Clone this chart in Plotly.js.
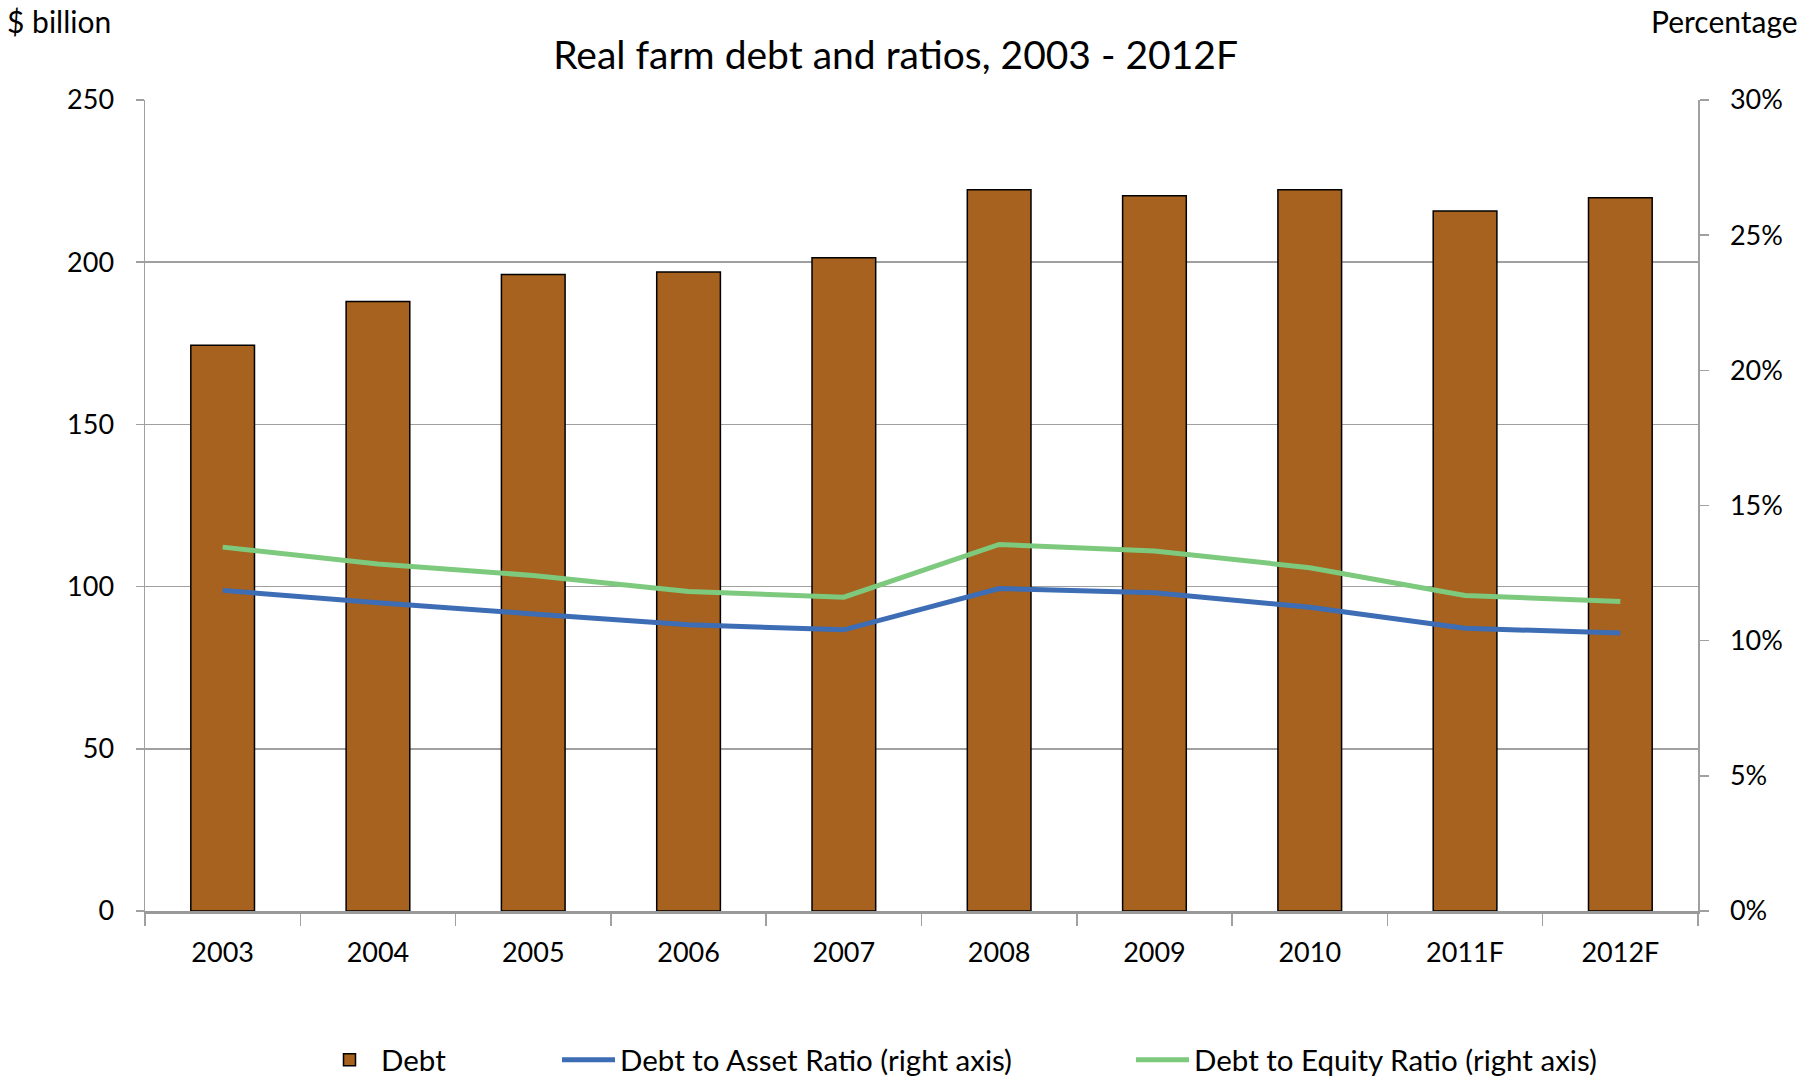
<!DOCTYPE html>
<html>
<head>
<meta charset="utf-8">
<script src="https://cdn.plot.ly/plotly-3.0.1.min.js"></script>
<style>
  html, body { margin: 0; padding: 0; background: #ffffff; }
  #chart { width: 1814px; height: 1076px; }
</style>
</head>
<body>
<div id="chart"></div>
<script>
// ---- Data ----
const years = ["2003", "2004", "2005", "2006", "2007", "2008", "2009", "2010", "2011F", "2012F"];
const debt = [174.4, 187.9, 196.2, 197.0, 201.4, 222.3, 220.5, 222.3, 215.8, 219.9];          // $ billion
const debtToAsset = [0.1186, 0.1140, 0.1099, 0.1059, 0.1040, 0.1193, 0.1177, 0.1124, 0.1046, 0.1028];
const debtToEquity = [0.1346, 0.1284, 0.1241, 0.1182, 0.1161, 0.1356, 0.1332, 0.1270, 0.1167, 0.1145];

const FONT = "Lato, 'Open Sans', sans-serif";
const GRID = "#a0a0a0";

const traces = [
  {
    type: "bar", name: "Debt", x: years, y: debt, yaxis: "y",
    marker: { color: "#a6621e", line: { color: "#000000", width: 1.5 } },
    legend: "legend"
  },
  {
    type: "scatter", mode: "lines", name: "Debt to Asset Ratio (right axis)",
    x: years, y: debtToAsset, yaxis: "y2",
    line: { color: "#3d6db5", width: 5 },
    legend: "legend2"
  },
  {
    type: "scatter", mode: "lines", name: "Debt to Equity Ratio (right axis)",
    x: years, y: debtToEquity, yaxis: "y2",
    line: { color: "#7dc97d", width: 5 },
    legend: "legend3"
  }
];

const legendBase = {
  orientation: "h", xref: "container", yref: "container",
  yanchor: "middle", xanchor: "left",
  font: { family: FONT, size: 29.5, color: "#000" },
  bgcolor: "rgba(0,0,0,0)", itemwidth: 53
};

const layout = {
  width: 1814, height: 1076,
  paper_bgcolor: "#ffffff", plot_bgcolor: "#ffffff",
  font: { family: FONT, size: 27, color: "#000000" },
  margin: { l: 145, r: 116, t: 100, b: 165, pad: 0 },
  bargap: 0.59,
  showlegend: true,
  title: {
    text: "Real farm debt and ratios, 2003 - 2012F",
    font: { family: FONT, size: 39, color: "#000" },
    x: 0.4937, xref: "container", xanchor: "center",
    y: 1 - 55 / 1076, yref: "container", yanchor: "middle"
  },
  xaxis: {
    type: "category",
    showline: true, linecolor: "#999999", linewidth: 2.5,
    ticks: "outside", tickson: "boundaries", ticklen: 12, tickcolor: GRID, tickwidth: 1.5,
    ticklabelstandoff: 16,
    showgrid: false, zeroline: false,
    tickfont: { family: FONT, size: 27, color: "#000" }
  },
  yaxis: {
    range: [0, 250], dtick: 50, tick0: 0,
    showline: true, linecolor: GRID, linewidth: 1.5,
    showgrid: true, gridcolor: GRID, gridwidth: 1.5,
    zeroline: false,
    ticks: "outside", ticklen: 8, tickcolor: GRID, tickwidth: 1.5,
    ticklabelstandoff: 16,
    tickfont: { family: FONT, size: 27, color: "#000" }
  },
  yaxis2: {
    overlaying: "y", side: "right",
    range: [0, 0.30], dtick: 0.05, tick0: 0, tickformat: ".0%",
    showline: true, linecolor: GRID, linewidth: 1.5,
    showgrid: false, zeroline: false,
    ticks: "outside", ticklen: 9, tickcolor: GRID, tickwidth: 1.5,
    ticklabelstandoff: 16,
    tickfont: { family: FONT, size: 27, color: "#000" }
  },
  legend: Object.assign({}, legendBase, { x: 318 / 1814, y: 1 - 1060 / 1076 }),
  legend2: Object.assign({}, legendBase, { x: 557 / 1814, y: 1 - 1060 / 1076 }),
  legend3: Object.assign({}, legendBase, { x: 1131 / 1814, y: 1 - 1060 / 1076 }),
  annotations: [
    {
      text: "$ billion", xref: "paper", yref: "paper", showarrow: false,
      x: -140 / 1553, xanchor: "left", y: 1 + (100 - 21) / 811, yanchor: "middle",
      font: { family: FONT, size: 30, color: "#000" }
    },
    {
      text: "Percentage", xref: "paper", yref: "paper", showarrow: false,
      x: 1 + (1800 - 1698) / 1553, xanchor: "right", y: 1 + (100 - 1) / 811, yanchor: "top",
      font: { family: FONT, size: 30, color: "#000" }
    }
  ]
};

Plotly.newPlot("chart", traces, layout, { displayModeBar: false, staticPlot: true });
</script>
</body>
</html>
